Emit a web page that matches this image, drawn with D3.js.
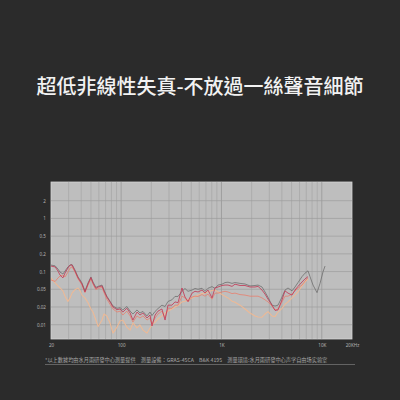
<!DOCTYPE html>
<html>
<head>
<meta charset="utf-8">
<script src="https://cdn.jsdelivr.net/npm/d3@7"></script>
<style>
  html, body { margin: 0; padding: 0; background: #2b2b2b; }
  svg { display: block; }
</style>
</head>
<body>
<svg id="chart"></svg>
<script>
// frequency points (Hz) shared by all curves
const freqs = [20, 22, 23.5, 24.6, 26.3, 27.6, 29.5, 31, 32.4, 34.7, 37.2, 39, 40.7, 43.6, 46.8, 50, 52.4, 56, 59, 64.5,
  67.5, 72, 77.5, 83, 91, 97.5, 104, 114, 123, 131, 144, 154, 165, 181, 194, 203, 218, 233, 255, 274,
  293, 321, 344, 369, 404, 433, 464, 509, 545, 584, 640, 685, 734, 805, 862, 924, 1013, 1085, 1162, 1274,
  1365, 1531, 1717, 1925, 2160, 2314, 2536, 2716, 2911, 3190, 3418, 3661, 4014, 4299, 4606, 5048, 5408, 5792, 6350, 6803,
  7288, 7630, 8176, 8962, 9600, 10284, 10767];

// THD (%) per curve, null where the curve has ended
const grayThd = [0.129, 0.125, 0.110, 0.098, 0.091, 0.102, 0.120, 0.129, 0.132, 0.106, 0.081, 0.072, 0.064, 0.046, 0.064, 0.081, 0.0665, 0.054, 0.056, 0.059,
  0.048, 0.035, 0.027, 0.021, 0.019, 0.0195, 0.0178, 0.0205, 0.017, 0.0152, 0.0178, 0.0158, 0.0168, 0.0141, 0.0164, 0.0143, 0.0168, 0.0188, 0.022, 0.0205,
  0.0266, 0.029, 0.0345, 0.0345, 0.045, 0.0516, 0.045, 0.048, 0.0516, 0.050, 0.052, 0.045, 0.052, 0.0555, 0.052, 0.059, 0.061, 0.065, 0.066, 0.063,
  0.065, 0.063, 0.0615, 0.057, 0.058, 0.059, 0.0547, 0.0435, 0.033, 0.022, 0.021, 0.022, 0.0335, 0.048, 0.0526, 0.046, 0.0547, 0.065, 0.082, 0.094,
  0.103, 0.082, 0.059, 0.042, 0.063, 0.099, 0.124];

const redThd = [0.124, 0.120, 0.102, 0.087, 0.078, 0.0945, 0.115, 0.129, 0.129, 0.102, 0.078, 0.069, 0.0615, 0.0435, 0.0615, 0.079, 0.064, 0.0516, 0.0547, 0.057,
  0.046, 0.0335, 0.026, 0.020, 0.018, 0.0185, 0.0164, 0.019, 0.0158, 0.012, 0.0164, 0.0146, 0.0158, 0.013, 0.0146, 0.0095, 0.0146, 0.017, 0.0185, 0.012,
  0.022, 0.022, 0.026, 0.025, 0.0526, 0.0335, 0.0266, 0.041, 0.045, 0.0435, 0.048, 0.041, 0.048, 0.032, 0.0526, 0.0547, 0.058, 0.059, 0.059, 0.056,
  0.061, 0.058, 0.058, 0.0547, 0.0547, 0.056, 0.048, 0.039, 0.030, 0.022, 0.0175, 0.0178, 0.029, 0.046, 0.041, 0.037, 0.048, 0.056, 0.0665, 0.075,
  0.082, null, null, null, null, null, null];

const salmonThd = [0.072, 0.068, 0.078, 0.084, 0.087, 0.081, 0.098, 0.115, 0.120, 0.098, 0.075, 0.0665, 0.059, 0.042, 0.059, 0.075, 0.0615, 0.049, 0.0516, 0.054,
  0.042, 0.030, 0.023, 0.0185, 0.0164, 0.017, 0.0146, 0.017, 0.0141, 0.0111, 0.0141, 0.013, 0.0141, 0.012, 0.013, 0.0103, 0.013, 0.0152, 0.017, 0.013,
  0.019, 0.019, 0.022, 0.022, 0.035, 0.032, 0.026, 0.0335, 0.035, 0.0345, 0.038, 0.035, 0.039, 0.030, 0.041, 0.041, 0.0435, 0.045, 0.0435, 0.040,
  0.041, 0.038, 0.037, 0.035, 0.035, 0.035, 0.032, 0.029, 0.026, 0.021, 0.0178, 0.0185, 0.026, 0.035, 0.035, 0.039, 0.046, 0.0526, 0.059, 0.069,
  0.078, null, null, null, null, null, null];

const peachThd = [0.078, 0.064, 0.057, 0.0526, 0.046, 0.035, 0.0266, 0.032, 0.041, 0.049, 0.0526, 0.046, 0.037, 0.032, 0.025, 0.0185, 0.0164, 0.012, 0.0093, 0.012,
  0.0152, 0.0141, 0.0107, 0.0072, 0.0091, 0.0116, 0.012, 0.0091, 0.0081, 0.0107, 0.0088, 0.0099, 0.0081, 0.0072, 0.0088, 0.0099, 0.0111, 0.0125, 0.0141, 0.0158,
  0.017, 0.0185, 0.020, 0.0216, 0.026, 0.027, 0.0295, 0.032, 0.0345, 0.037, 0.040, 0.041, 0.0435, 0.047, 0.048, 0.0435, 0.038, 0.035, 0.032, 0.027,
  0.0255, 0.022, 0.0185, 0.0158, 0.0141, 0.0135, 0.0134, 0.0152, 0.0167, 0.0141, 0.0137, 0.0164, 0.019, 0.023, 0.026, 0.032, 0.037, 0.0435, 0.057, 0.0665,
  0.075, null, null, null, null, null, null];

const yTicks = [0.01, 0.02, 0.05, 0.1, 0.2, 0.5, 1, 2];
const yTickLabels = ["0.01", "0.02", "0.05", "0.1", "0.2", "0.5", "1", "2"];
const xTicks = [20, 100, 1000, 10000, 20000];
const xTickLabels = ["20", "100", "1K", "10K", "20KHz"];

const title = "超低非線性失真-不放過一絲聲音細節";
const footnote = "*以上數據均由水月雨研發中心測量提供　測量設備：GRAS-45CA　B&K 4195　測量環境:水月雨研發中心声学自由场实验室";

const W = 400, H = 400;
const plot = { left: 51, top: 182, width: 301, height: 157 };

const svg = d3.select("#chart").attr("width", W).attr("height", H);
svg.append("rect").attr("width", W).attr("height", H).attr("fill", "#2b2b2b");

svg.append("text")
  .attr("x", W / 2).attr("y", 94)
  .attr("text-anchor", "middle")
  .style("font-family", "'Noto Sans CJK TC', 'Noto Sans CJK SC', sans-serif")
  .style("font-size", "20px")
  .style("font-weight", 500)
  .style("fill", "#f2f2f2")
  .text(title);

const x = d3.scaleLog().domain([20, 20000]).range([0, plot.width]);
// evenly spaced labelled levels, log between neighbours
const step = 17.71;
const y = d3.scaleLog()
  .domain(yTicks)
  .range(yTicks.map((d, i) => plot.height - 14.3 - i * step));

const g = svg.append("g").attr("transform", `translate(${plot.left},${plot.top})`);

g.append("rect")
  .attr("width", plot.width).attr("height", plot.height)
  .attr("fill", "#bebebe")
  .attr("stroke", "#d4d4d4").attr("stroke-width", 0.8);

// vertical grid at log minor ticks
const vGrid = x.ticks().filter(d => d > 20 && d < 20000);
g.append("g").selectAll("line")
  .data(vGrid)
  .join("line")
  .attr("x1", d => x(d)).attr("x2", d => x(d))
  .attr("y1", 0).attr("y2", plot.height)
  .attr("stroke", d => [100, 1000, 10000].includes(d) ? "#929292" : "#a5a5a5")
  .attr("stroke-width", 0.7);

// horizontal grid
g.append("g").selectAll("line")
  .data(yTicks)
  .join("line")
  .attr("x1", 0).attr("x2", plot.width)
  .attr("y1", d => y(d)).attr("y2", d => y(d))
  .attr("stroke", "#9c9c9c")
  .attr("stroke-width", 0.7);

g.append("clipPath").attr("id", "clip")
  .append("rect").attr("width", plot.width).attr("height", plot.height);

const line = d3.line()
  .defined(d => d[1] != null)
  .x(d => x(d[0]))
  .y(d => y(d[1]));

const series = [
  { values: peachThd, color: "#f4b98f", width: 1.1, opacity: 0.85 },
  { values: salmonThd, color: "#e8806e", width: 0.9, opacity: 0.9 },
  { values: grayThd, color: "#6f6f6f", width: 0.8, opacity: 1 },
  { values: redThd, color: "#c23c58", width: 0.9, opacity: 0.95 }
];

const curves = g.append("g").attr("clip-path", "url(#clip)");
series.forEach(s => {
  curves.append("path")
    .datum(freqs.map((f, i) => [f, s.values[i]]))
    .attr("d", line)
    .attr("fill", "none")
    .attr("stroke", s.color)
    .attr("stroke-width", s.width)
    .attr("stroke-opacity", s.opacity)
    .attr("stroke-linejoin", "round");
});

const axisFont = "'Noto Sans', 'DejaVu Sans', sans-serif";

const xAxis = g.append("g")
  .attr("transform", `translate(0,${plot.height})`)
  .call(d3.axisBottom(x).tickValues(xTicks).tickSize(0).tickPadding(5)
    .tickFormat((d, i) => xTickLabels[i]));
xAxis.select(".domain").remove();
xAxis.selectAll("text")
  .style("font-family", axisFont).style("font-size", "4.6px").style("fill", "#b5b5b5");

const yAxis = g.append("g")
  .call(d3.axisLeft(y).tickValues(yTicks).tickSize(0).tickPadding(5)
    .tickFormat((d, i) => yTickLabels[i]));
yAxis.select(".domain").remove();
yAxis.selectAll("text")
  .style("font-family", axisFont).style("font-size", "4.6px").style("fill", "#b5b5b5");

svg.append("text")
  .attr("x", 45).attr("y", 362)
  .style("font-family", "'Noto Sans CJK TC', sans-serif")
  .style("font-size", "5.2px")
  .style("fill", "#a8a8a8")
  .text(footnote);

svg.append("line")
  .attr("x1", 45).attr("x2", 355)
  .attr("y1", 364.5).attr("y2", 364.5)
  .attr("stroke", "#8a8a8a").attr("stroke-width", 0.6);
</script>
</body>
</html>
